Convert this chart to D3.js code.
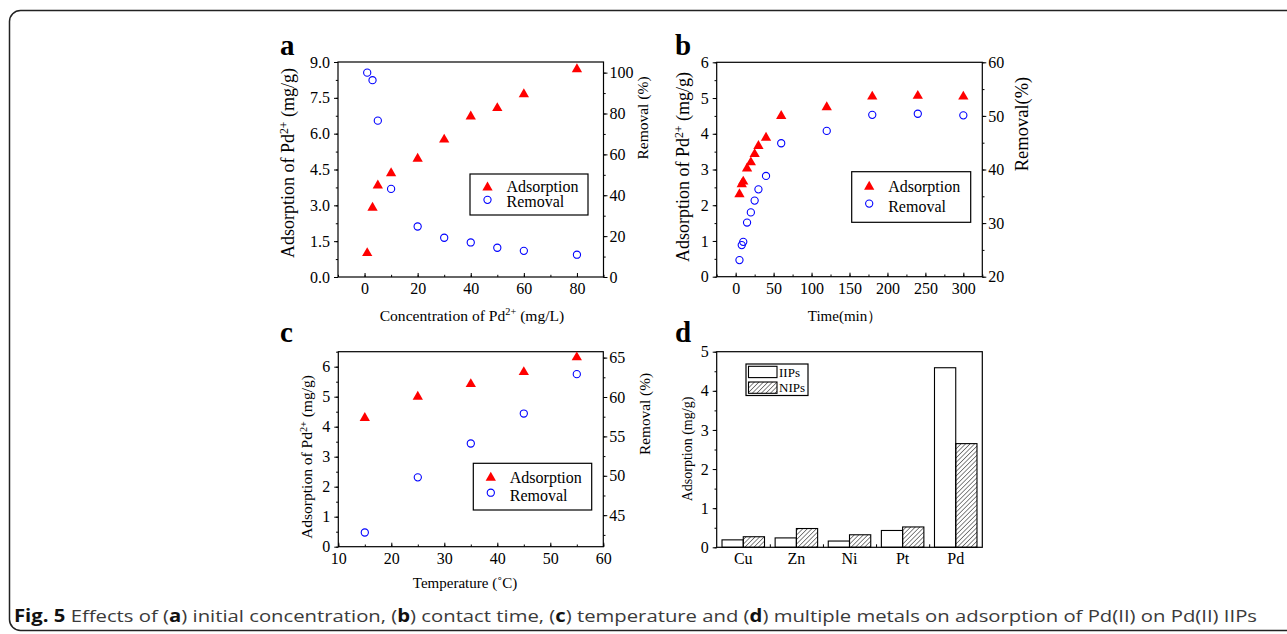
<!DOCTYPE html>
<html>
<head>
<meta charset="utf-8">
<script src="https://cdn.jsdelivr.net/npm/d3@7"></script>
<style>
  body { margin: 0; background: #fff; }
  svg text { font-family: "Liberation Serif", "Times New Roman", serif; fill: #000; }
  svg text.cap { font-family: "Open Sans", "Noto Sans", sans-serif; fill: #3a3a3a; }
</style>
</head>
<body>
<svg id="fig" width="1287" height="634"></svg>
<script>
// (a) initial concentration
let concX = [1, 3, 5, 10, 20, 30, 40, 50, 60, 80]
let concAds = [1.0, 2.9, 3.83, 4.34, 4.95, 5.75, 6.72, 7.07, 7.65, 8.7]
let concRem = [100, 96.3, 76.5, 43.1, 24.7, 19.2, 16.9, 14.3, 12.8, 10.9]
// (b) contact time
let timeX = [5, 8, 10, 15, 20, 25, 30, 40, 60, 120, 180, 240, 300]
let timeAds = [2.31, 2.59, 2.66, 3.03, 3.2, 3.43, 3.66, 3.89, 4.5, 4.74, 5.04, 5.06, 5.04]
let timeRem = [23.1, 25.9, 26.5, 30.1, 32.0, 34.2, 36.3, 38.8, 44.9, 47.2, 50.2, 50.4, 50.1]
// (c) temperature
let tempX = [15, 25, 35, 45, 55]
let tempAds = [4.29, 5.0, 5.42, 5.82, 6.31]
let tempRem = [42.8, 49.8, 54.1, 57.9, 62.9]
// (d) multiple metals
let metals = ["Cu", "Zn", "Ni", "Pt", "Pd"]
let iips = [0.19, 0.24, 0.16, 0.43, 4.59]
let nips = [0.27, 0.48, 0.32, 0.52, 2.65]
let barKeys = ["IIPs", "NIPs"]

let svg = d3.select("#fig")

// hatch for NIPs
svg.append("defs").append("pattern")
  .attr("id", "hatch")
  .attr("patternUnits", "userSpaceOnUse")
  .attr("width", 3.2).attr("height", 3.2)
  .attr("patternTransform", "rotate(45)")
  .append("line")
  .attr("x1", 0).attr("y1", 0).attr("x2", 0).attr("y2", 3.2)
  .attr("stroke", "#222").attr("stroke-width", 1.1)

// outer rounded border
svg.append("rect")
  .attr("x", 9.5).attr("y", 10.5).attr("width", 1300).attr("height", 620)
  .attr("rx", 11).attr("fill", "none").attr("stroke", "#222").attr("stroke-width", 1.5)

function tickAxis(gen, major, minor, size, pad, fmt, tr) {
  svg.append("g").attr("transform", tr)
    .call(gen.tickValues(minor).tickSize(size * 0.55).tickFormat(""))
    .call(g => g.select(".domain").remove())
  svg.append("g").attr("transform", tr)
    .call(gen.tickValues(major).tickSize(size).tickPadding(pad).tickFormat(fmt))
    .call(g => g.select(".domain").remove())
    .attr("font-family", null).attr("font-size", 16)
}

function frame(p) {
  svg.append("rect")
    .attr("x", p.x0).attr("y", p.y0)
    .attr("width", p.x1 - p.x0).attr("height", p.y1 - p.y0)
    .attr("fill", "none").attr("stroke", "#000").attr("stroke-width", 1.2)
}

function vTitle(x, y, fs, parts) {
  let t = svg.append("text")
    .attr("transform", `translate(${x},${y}) rotate(-90)`)
    .attr("text-anchor", "middle").attr("dy", "0.35em")
    .attr("font-size", fs)
  parts.forEach(s => {
    if (s.sup) t.append("tspan").attr("font-size", fs * 0.66).attr("dy", "-0.55em").text(s.sup)
    else t.append("tspan").attr("dy", s.after ? "0.37em" : null).text(s.t)
  })
}

function hTitle(x, y, fs, parts) {
  let t = svg.append("text").attr("x", x).attr("y", y)
    .attr("text-anchor", "middle").attr("font-size", fs)
  parts.forEach(s => {
    if (s.sup) t.append("tspan").attr("font-size", fs * 0.66).attr("dy", "-0.55em").text(s.sup)
    else t.append("tspan").attr("dy", s.after ? "0.37em" : null).text(s.t)
  })
}

function letter(x, y, s) {
  svg.append("text").attr("x", x).attr("y", y)
    .attr("font-size", 29).attr("font-weight", "bold").text(s)
}

function tri(x, y) {
  svg.append("path").attr("d", d3.symbol(d3.symbolTriangle, 46)())
    .attr("transform", `translate(${x},${y})`).attr("fill", "#ff0000")
}
function circ(x, y) {
  svg.append("circle").attr("cx", x).attr("cy", y).attr("r", 3.6)
    .attr("fill", "none").attr("stroke", "#0000ff").attr("stroke-width", 1.1)
}

function legend(b) {
  svg.append("rect").attr("x", b.x).attr("y", b.y).attr("width", b.w).attr("height", b.h)
    .attr("fill", "#fff").attr("stroke", "#000").attr("stroke-width", 1.2)
  tri(b.x + 17.5, b.y + 7 + b.h * 0.16)
  circ(b.x + 17.5, b.y + b.h * 0.63)
  svg.append("text").attr("x", b.x + 36.5).attr("y", b.y + b.h * 0.3).attr("dy", "0.35em")
    .attr("font-size", 16).text("Adsorption")
  svg.append("text").attr("x", b.x + 36.5).attr("y", b.y + b.h * 0.68).attr("dy", "0.35em")
    .attr("font-size", 16).text("Removal")
}

function scatter(p) {
  let x = d3.scaleLinear().domain(p.xDom).range([p.x0, p.x1])
  let yL = d3.scaleLinear().domain(p.yDom).range([p.y1, p.y0])
  let yR = d3.scaleLinear().domain(p.rDom).range([p.y1, p.y0])

  tickAxis(d3.axisLeft(yL), p.yMaj, p.yMin, 4, 4, p.yFmt, `translate(${p.x0},0)`)
  tickAxis(d3.axisRight(yR), p.rMaj, p.rMin, 4, 2, d3.format("d"), `translate(${p.x1},0)`)
  tickAxis(d3.axisBottom(x), p.xMaj, p.xMin, -4, 6, d3.format("d"), `translate(0,${p.y1})`)
  frame(p)

  p.xs.forEach((v, i) => tri(x(v), yL(p.ads[i])))
  p.xs.forEach((v, i) => circ(x(v), yR(p.rem[i])))
  legend(p.leg)
}

let rng = (a, b, s) => d3.range(a, b + s / 2, s)

// ---------- a ----------
scatter({
  x0: 338, x1: 603.5, y0: 62, y1: 277,
  xDom: [-10, 90], yDom: [0, 9], rDom: [0, 105.2],
  xMaj: rng(0, 80, 20), xMin: rng(-10, 90, 10),
  yMaj: rng(0, 9, 1.5), yMin: rng(0, 9, 0.75), yFmt: d3.format(".1f"),
  rMaj: rng(0, 100, 20), rMin: rng(0, 100, 10),
  xs: concX, ads: concAds, rem: concRem,
  leg: {x: 470, y: 174, w: 118, h: 41}
})
letter(280, 55, "a")
vTitle(288, 163, 18, [{t: "Adsorption of Pd"}, {sup: "2+"}, {t: " (mg/g)", after: true}])
vTitle(643, 118, 15.5, [{t: "Removal (%)"}])
hTitle(472, 321, 15.6, [{t: "Concentration of Pd"}, {sup: "2+"}, {t: " (mg/L)", after: true}])

// ---------- b ----------
scatter({
  x0: 716.7, x1: 982.3, y0: 62.3, y1: 276.7,
  xDom: [-25, 325], yDom: [0, 6], rDom: [20, 60],
  xMaj: rng(0, 300, 50), xMin: rng(-25, 325, 25),
  yMaj: rng(0, 6, 1), yMin: rng(0, 6, 0.5), yFmt: d3.format("d"),
  rMaj: rng(20, 60, 10), rMin: rng(20, 60, 5),
  xs: timeX, ads: timeAds, rem: timeRem,
  leg: {x: 851.7, y: 171.7, w: 119, h: 50.6}
})
letter(675, 55, "b")
vTitle(683, 167, 18, [{t: "Adsorption of Pd"}, {sup: "2+"}, {t: " (mg/g)", after: true}])
vTitle(1021.7, 124, 18.5, [{t: "Removal(%)"}])
hTitle(845, 321, 15, [{t: "Time(min\uFF09"}])

// ---------- c ----------
scatter({
  x0: 338.3, x1: 603.3, y0: 351.7, y1: 546.7,
  xDom: [10, 60], yDom: [0, 6.5], rDom: [41, 65.75],
  xMaj: rng(10, 60, 10), xMin: rng(10, 60, 5),
  yMaj: rng(0, 6, 1), yMin: rng(0, 6.5, 0.5), yFmt: d3.format("d"),
  rMaj: rng(45, 65, 5), rMin: rng(42.5, 65, 2.5),
  xs: tempX, ads: tempAds, rem: tempRem,
  leg: {x: 473.3, y: 463.3, w: 118.4, h: 46.7}
})
letter(280, 342, "c")
vTitle(306.7, 457, 15.5, [{t: "Adsorption of Pd"}, {sup: "2+"}, {t: " (mg/g)", after: true}])
vTitle(645, 414, 15.3, [{t: "Removal (%)"}])
hTitle(465, 588, 15, [{t: "Temperature (\u02DAC)"}])

// ---------- d ----------
let pd = {x0: 716.7, x1: 982.3, y0: 351.7, y1: 547.3}
let xb = d3.scaleBand().domain(metals).range([pd.x0, pd.x1])
let xs = d3.scaleBand().domain(barKeys).range([0, xb.bandwidth()]).paddingOuter(0.25)
let yd = d3.scaleLinear().domain([0, 5]).range([pd.y1, pd.y0])
let xc = d3.scaleLinear().domain([0, metals.length]).range([pd.x0, pd.x1])

tickAxis(d3.axisLeft(yd), rng(0, 5, 1), rng(0, 5, 0.5), 4, 4, d3.format("d"), `translate(${pd.x0},0)`)
svg.append("g").attr("transform", `translate(0,${pd.y1})`)
  .call(d3.axisBottom(xc).tickValues([1, 2, 3, 4]).tickSize(-3).tickFormat(""))
  .call(g => g.select(".domain").remove())
svg.append("g").attr("transform", `translate(0,${pd.y1})`)
  .call(d3.axisBottom(xb).tickSize(0).tickPadding(5))
  .call(g => g.select(".domain").remove())
  .attr("font-family", null).attr("font-size", 16)

let rows = metals.map((m, i) => ({m: m, IIPs: iips[i], NIPs: nips[i]}))
svg.append("g").selectAll("g").data(rows).join("g")
  .attr("transform", d => `translate(${xb(d.m)},0)`)
  .selectAll("rect").data(d => barKeys.map(k => ({k: k, v: d[k]}))).join("rect")
  .attr("x", d => xs(d.k))
  .attr("y", d => yd(d.v))
  .attr("width", xs.bandwidth())
  .attr("height", d => pd.y1 - yd(d.v))
  .attr("fill", d => d.k == "IIPs" ? "#fff" : "url(#hatch)")
  .attr("stroke", "#000").attr("stroke-width", 1.1)
frame(pd)

// legend d
let ld = {x: 746, y: 364, w: 62, h: 31.5}
svg.append("rect").attr("x", ld.x).attr("y", ld.y).attr("width", ld.w).attr("height", ld.h)
  .attr("fill", "#fff").attr("stroke", "#000").attr("stroke-width", 1.2)
barKeys.forEach((k, i) => {
  svg.append("rect").attr("x", ld.x + 2.5).attr("y", ld.y + 2.3 + i * 15.7)
    .attr("width", 28.5).attr("height", 11.3)
    .attr("fill", k == "IIPs" ? "#fff" : "url(#hatch)")
    .attr("stroke", "#000").attr("stroke-width", 1.1)
  svg.append("text").attr("x", ld.x + 33).attr("y", ld.y + 8 + i * 15.7).attr("dy", "0.35em")
    .attr("font-size", 13).text(k)
})
letter(675, 342, "d")
vTitle(686.7, 449, 14, [{t: "Adsorption (mg/g)"}])

// caption
let cap = svg.append("text").attr("class", "cap").attr("x", 14).attr("y", 622)
  .attr("font-size", 17).attr("textLength", 1243).attr("lengthAdjust", "spacingAndGlyphs")
let capParts = [
  ["Fig. 5", true], [" Effects of (", false], ["a", true], [") initial concentration, (", false],
  ["b", true], [") contact time, (", false], ["c", true], [") temperature and (", false],
  ["d", true], [") multiple metals on adsorption of Pd(II) on Pd(II) IIPs", false]
]
capParts.forEach(c => {
  cap.append("tspan").attr("font-weight", c[1] ? "bold" : null)
    .style("fill", c[1] ? "#111" : null).text(c[0])
})
</script>
</body>
</html>
